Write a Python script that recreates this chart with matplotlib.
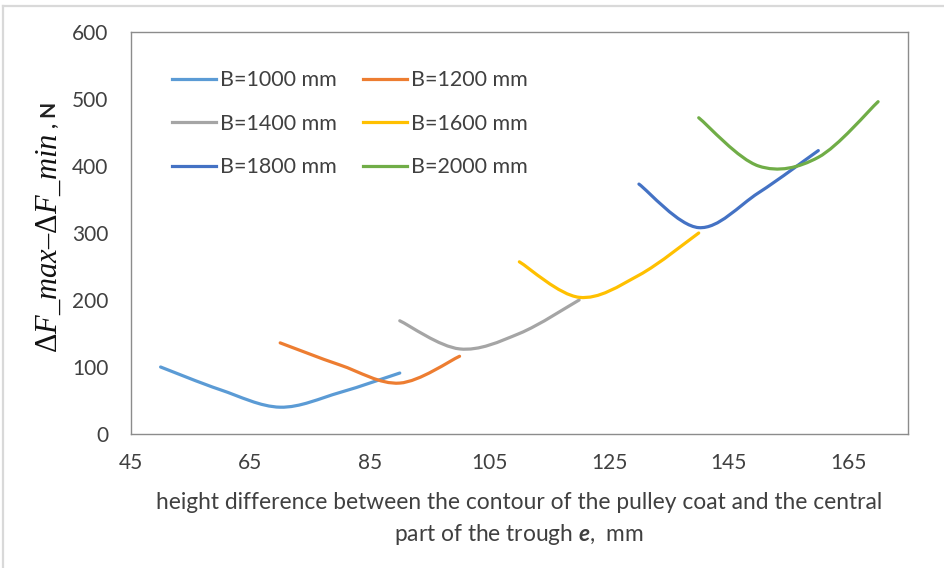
import numpy as np
import matplotlib
matplotlib.use("Agg")
import matplotlib.pyplot as plt
from matplotlib.path import Path
from matplotlib.patches import PathPatch
from matplotlib.lines import Line2D

plt.rcParams['font.family'] = ['Lato', 'DejaVu Sans']
plt.rcParams['mathtext.fontset'] = 'custom'
plt.rcParams['mathtext.it'] = 'Liberation Serif:italic'
plt.rcParams['mathtext.rm'] = 'Liberation Serif'
plt.rcParams['mathtext.bf'] = 'Lato:bold'
plt.rcParams['mathtext.bfit'] = 'Lato:italic:bold'

labels = ["B=1000 mm", "B=1200 mm", "B=1400 mm", "B=1600 mm", "B=1800 mm", "B=2000 mm"]
colors = ["#5B9BD5", "#ED7D31", "#A5A5A5", "#FFC000", "#4472C4", "#70AD47"]

x_1000 = [50, 60, 70, 80, 90]
y_1000 = [100, 66, 40, 62, 91]
x_1200 = [70, 80, 90, 100]
y_1200 = [136, 103, 76, 116]
x_1400 = [90, 100, 110, 120]
y_1400 = [169, 127, 150, 200]
x_1600 = [110, 120, 130, 140]
y_1600 = [257, 204, 237, 300]
x_1800 = [130, 140, 150, 160]
y_1800 = [373, 308, 360, 423]
x_2000 = [140, 150, 160, 170]
y_2000 = [472, 400, 413, 496]

xs = [x_1000, x_1200, x_1400, x_1600, x_1800, x_2000]
ys = [y_1000, y_1200, y_1400, y_1600, y_1800, y_2000]

x_ticks = [45, 65, 85, 105, 125, 145, 165]
y_ticks = [0, 100, 200, 300, 400, 500, 600]

TXT = "#404040"
W, H = 945, 568

fig = plt.figure(figsize=(9.45, 5.68), dpi=100)
# light chart-area border (top and left edges only visible)
fig.add_artist(Line2D([3.5 / W, 1.0], [1 - 6 / H, 1 - 6 / H], transform=fig.transFigure,
                      color="#d9d9d9", linewidth=1.6))
fig.add_artist(Line2D([3.5 / W, 3.5 / W], [0.0, 1 - 6 / H], transform=fig.transFigure,
                      color="#d9d9d9", linewidth=1.6))

ax = fig.add_axes([130.7 / W, 1 - 434 / H, (908 - 130.7) / W, (434 - 32) / H])


def smooth_path(x, y):
    p = np.column_stack([x, y]).astype(float)
    n = len(p)
    verts = [p[0]]
    codes = [Path.MOVETO]
    for i in range(n - 1):
        p0 = p[i - 1] if i > 0 else p[i]
        p1 = p[i]
        p2 = p[i + 1]
        p3 = p[i + 2] if i + 2 < n else p[i + 1]
        c1 = p1 + (p2 - p0) / 6.0
        c2 = p2 - (p3 - p1) / 6.0
        verts += [c1, c2, p2]
        codes += [Path.CURVE4] * 3
    return Path(verts, codes)


handles = []
for x, y, c, lab in zip(xs, ys, colors, labels):
    ax.add_patch(PathPatch(smooth_path(x, y), fill=False, edgecolor=c, linewidth=2.3,
                           capstyle='round', joinstyle='round'))
    handles.append(Line2D([], [], color=c, linewidth=2.3, label=lab))

ax.set_xlim(45, 175)
ax.set_ylim(0, 600)
ax.set_xticks(x_ticks)
ax.set_yticks(y_ticks)
ax.tick_params(length=0, labelsize=15, colors=TXT)
ax.tick_params(axis='x', pad=14)
ax.tick_params(axis='y', pad=16)
for s in ax.spines.values():
    s.set_color("#8c8c8c")
    s.set_linewidth(1.0)

ax.set_xlabel("height difference between the contour of the pulley coat and the central\n"
              r"part of the trough $\mathbfit{e}$,  mm",
              fontsize=16.4, color=TXT, linespacing=1.45)
ax.xaxis.set_label_coords(0.5, (434 - 492) / 402)

# y label: math part + bold ", N"
t1 = fig.text(49 / W, 1 - 353 / H, "$\\Delta F\\_max\\mathrm{\u2013}\\Delta F\\_min$",
              rotation=90, ha='center', va='bottom', fontsize=22, color="#111111")
ax.annotate(" , N", xy=(1.0, 1.0), xycoords=t1, xytext=(-2.5, 0), textcoords='offset points',
            rotation=90, ha='right', va='bottom', fontsize=15, fontweight='bold',
            color="#222222", annotation_clip=False)

order = [0, 2, 4, 1, 3, 5]
leg = ax.legend(handles=[handles[i] for i in order], ncol=2, loc='upper left',
                bbox_to_anchor=((171.7 - 130.7) / 777.3, (434 - 70.5) / 402),
                frameon=False, fontsize=15.5, handlelength=2.05, handletextpad=0.19,
                columnspacing=1.22, labelspacing=1.09, borderpad=0, borderaxespad=0)
for t in leg.get_texts():
    t.set_color(TXT)

fig.savefig("out.png", dpi=100)
